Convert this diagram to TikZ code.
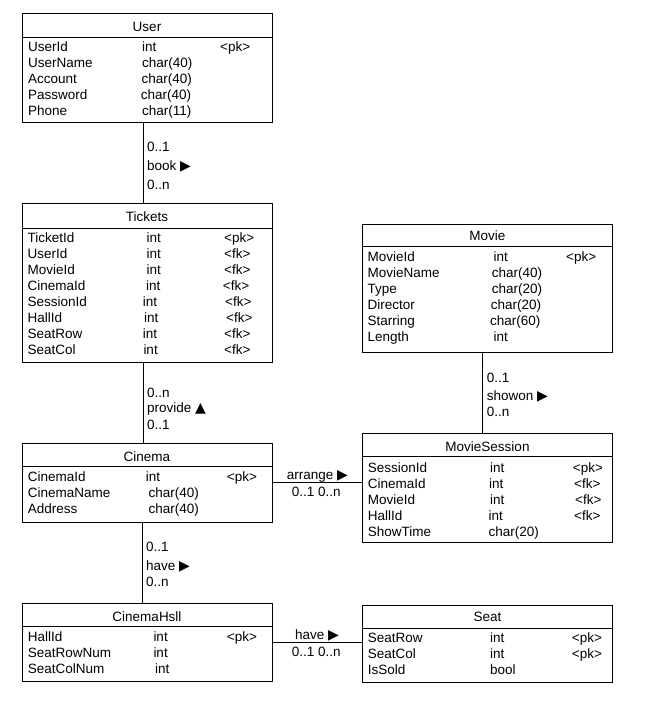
\documentclass[tikz,border=0pt]{standalone}
\usepackage{fontspec}
\setmainfont{Liberation Sans}
\newfontfamily\symfont{DejaVu Sans}
\newcommand{\rtri}{{\symfont\fontsize{14}{14}\selectfont ▶}}
\newcommand{\utri}{{\symfont\fontsize{14}{14}\selectfont ▲}}
\begin{document}
\begin{tikzpicture}
        [x=1pt, y=-1pt,
        entity/.style={draw, line width=0.9pt, anchor=north west, inner sep=0pt, outer sep=0pt, minimum width=250pt},
        head/.style={anchor=base, inner sep=0pt, font=\fontsize{13.5}{16}\selectfont},
        field/.style={anchor=base west, inner sep=0pt, font=\fontsize{13.5}{16}\selectfont},
        link/.style={line width=0.9pt}]
        \useasboundingbox (0,0) rectangle (649,705);

        \node[entity, minimum height=109pt] (user) at (22,13) {};
        \node[entity, minimum height=159pt] (tickets) at (22,203.3) {};
        \node[entity, minimum height=79pt] (cinema) at (22,443.3) {};
        \node[entity, minimum height=78.4pt] (hall) at (22,603.3) {};
        \node[entity, minimum height=128.4pt] (movie) at (362.5,224.3) {};
        \node[entity, minimum height=109.4pt] (session) at (362.5,433.3) {};
        \node[entity, minimum height=77.7pt] (seat) at (362.5,605) {};

        \draw[link] ([yshift=-24.5pt]user.north west) -- ([yshift=-24.5pt]user.north east);
        \draw[link] ([yshift=-25pt]tickets.north west) -- ([yshift=-25pt]tickets.north east);
        \draw[link] ([yshift=-23.4pt]cinema.north west) -- ([yshift=-23.4pt]cinema.north east);
        \draw[link] ([yshift=-23.4pt]hall.north west) -- ([yshift=-23.4pt]hall.north east);
        \draw[link] ([yshift=-22.4pt]movie.north west) -- ([yshift=-22.4pt]movie.north east);
        \draw[link] ([yshift=-22.7pt]session.north west) -- ([yshift=-22.7pt]session.north east);
        \draw[link] ([yshift=-23pt]seat.north west) -- ([yshift=-23pt]seat.north east);

        \node[head] (userT) at (147,31) {User};
        \node[field] (u1) at (28,51.5) {UserId}; \node[field] (u1t) at (142,51.5) {int}; \node[field] (u1k) at (220,51.5) {<pk>};
        \node[field] (u2) at (28,67.5) {UserName}; \node[field] (u2t) at (142,67.5) {char(40)};
        \node[field] (u3) at (28,83.5) {Account}; \node[field] (u3t) at (141.5,83.5) {char(40)};
        \node[field] (u4) at (28,99.5) {Password}; \node[field] (u4t) at (140.7,99.5) {char(40)};
        \node[field] (u5) at (28,115.5) {Phone}; \node[field] (u5t) at (142,115.5) {char(11)};

        \node[head] (ticketsT) at (147,221.7) {Tickets};
        \node[field] (t1) at (27.5,242.7) {TicketId}; \node[field] (t1t) at (146.5,242.7) {int}; \node[field] (t1k) at (224,242.7) {<pk>};
        \node[field] (t2) at (27.5,258.7) {UserId}; \node[field] (t2t) at (146.5,258.7) {int}; \node[field] (t2k) at (224,258.7) {<fk>};
        \node[field] (t3) at (27.5,274.7) {MovieId}; \node[field] (t3t) at (146.5,274.7) {int}; \node[field] (t3k) at (224,274.7) {<fk>};
        \node[field] (t4) at (27.5,290.7) {CinemaId}; \node[field] (t4t) at (146,290.7) {int}; \node[field] (t4k) at (222.7,290.7) {<fk>};
        \node[field] (t5) at (27.5,306.7) {SessionId}; \node[field] (t5t) at (142.7,306.7) {int}; \node[field] (t5k) at (225,306.7) {<fk>};
        \node[field] (t6) at (27.5,322.7) {HallId}; \node[field] (t6t) at (144,322.7) {int}; \node[field] (t6k) at (226,322.7) {<fk>};
        \node[field] (t7) at (27.5,338.7) {SeatRow}; \node[field] (t7t) at (142.7,338.7) {int}; \node[field] (t7k) at (224,338.7) {<fk>};
        \node[field] (t8) at (27.5,354.7) {SeatCol}; \node[field] (t8t) at (143.3,354.7) {int}; \node[field] (t8k) at (224,354.7) {<fk>};

        \node[head] (cinemaT) at (147,461.7) {Cinema};
        \node[field] (c1) at (27.7,481.7) {CinemaId}; \node[field] (c1t) at (145.7,481.7) {int}; \node[field] (c1k) at (226.7,481.7) {<pk>};
        \node[field] (c2) at (27.7,497.7) {CinemaName}; \node[field] (c2t) at (148.3,497.7) {char(40)};
        \node[field] (c3) at (27.7,513.7) {Address}; \node[field] (c3t) at (148.3,513.7) {char(40)};

        \node[head] (hallT) at (147,621.7) {CinemaHsll};
        \node[field] (h1) at (27.7,641.7) {HallId}; \node[field] (h1t) at (153.3,641.7) {int}; \node[field] (h1k) at (226.7,641.7) {<pk>};
        \node[field] (h2) at (27.7,657.7) {SeatRowNum}; \node[field] (h2t) at (153.3,657.7) {int};
        \node[field] (h3) at (27.7,673.7) {SeatColNum}; \node[field] (h3t) at (155,673.7) {int};

        \node[head] (movieT) at (487.5,240.7) {Movie};
        \node[field] (m1) at (367.5,261.7) {MovieId}; \node[field] (m1t) at (493.3,261.7) {int}; \node[field] (m1k) at (566,261.7) {<pk>};
        \node[field] (m2) at (367.5,277.7) {MovieName}; \node[field] (m2t) at (491.7,277.7) {char(40)};
        \node[field] (m3) at (367.5,293.7) {Type}; \node[field] (m3t) at (491.7,293.7) {char(20)};
        \node[field] (m4) at (367.5,309.7) {Director}; \node[field] (m4t) at (490.7,309.7) {char(20)};
        \node[field] (m5) at (367.5,325.7) {Starring}; \node[field] (m5t) at (490,325.7) {char(60)};
        \node[field] (m6) at (367.5,341.7) {Length}; \node[field] (m6t) at (493.3,341.7) {int};

        \node[head] (sessionT) at (487.5,451.7) {MovieSession};
        \node[field] (s1) at (367.7,472.7) {SessionId}; \node[field] (s1t) at (490,472.7) {int}; \node[field] (s1k) at (572.7,472.7) {<pk>};
        \node[field] (s2) at (367.7,488.5) {CinemaId}; \node[field] (s2t) at (489,488.5) {int}; \node[field] (s2k) at (574,488.5) {<fk>};
        \node[field] (s3) at (367.7,504.5) {MovieId}; \node[field] (s3t) at (490,504.5) {int}; \node[field] (s3k) at (575,504.5) {<fk>};
        \node[field] (s4) at (367.7,520.5) {HallId}; \node[field] (s4t) at (488.5,520.5) {int}; \node[field] (s4k) at (574,520.5) {<fk>};
        \node[field] (s5) at (367.7,536.5) {ShowTime}; \node[field] (s5t) at (488.3,536.5) {char(20)};

        \node[head] (seatT) at (487.5,621.7) {Seat};
        \node[field] (e1) at (367.7,642.7) {SeatRow}; \node[field] (e1t) at (490,642.7) {int}; \node[field] (e1k) at (571.7,642.7) {<pk>};
        \node[field] (e2) at (367.7,658.3) {SeatCol}; \node[field] (e2t) at (490,658.3) {int}; \node[field] (e2k) at (571.7,658.3) {<pk>};
        \node[field] (e3) at (367.7,674) {IsSold}; \node[field] (e3t) at (490,674) {bool};

        \draw[link] ([xshift=-4pt]user.south) -- ([xshift=-4pt]tickets.north);
        \draw[link] ([xshift=-4pt]tickets.south) -- ([xshift=-4pt]cinema.north);
        \draw[link] ([xshift=-4.3pt]cinema.south) -- ([xshift=-4.3pt]hall.north);
        \draw[link] ([xshift=-4.7pt]movie.south) -- ([xshift=-4.7pt]session.north);
        \draw[link] (cinema.east) -- (cinema.east -| session.west);
        \draw[link] (hall.east) -- (hall.east -| seat.west);

        \node[field] (bookA) at (147,151.7) {0..1};
        \node[field] (book) at (147,170.7) {book \rtri};
        \node[field] (bookB) at (147,189) {0..n};
        \node[field] (provideA) at (147,397.3) {0..n};
        \node[field] (provide) at (147,412.3) {provide \utri};
        \node[field] (provideB) at (147,429.3) {0..1};
        \node[field] (haveA) at (146,551.7) {0..1};
        \node[field] (have) at (146,570) {have \rtri};
        \node[field] (haveB) at (146,586.7) {0..n};
        \node[field] (showonA) at (486.7,382.7) {0..1};
        \node[field] (showon) at (486.7,400) {showon \rtri};
        \node[field] (showonB) at (486.7,416) {0..n};
        \node[field] (arrange) at (286.7,479) {arrange \rtri};
        \node[field] (arrangeA) at (291.7,496.7) {0..1 0..n};
        \node[field] (seathave) at (295,639) {have \rtri};
        \node[field] (seathaveA) at (291.7,656.7) {0..1 0..n};

    \end{tikzpicture}
\end{document}
